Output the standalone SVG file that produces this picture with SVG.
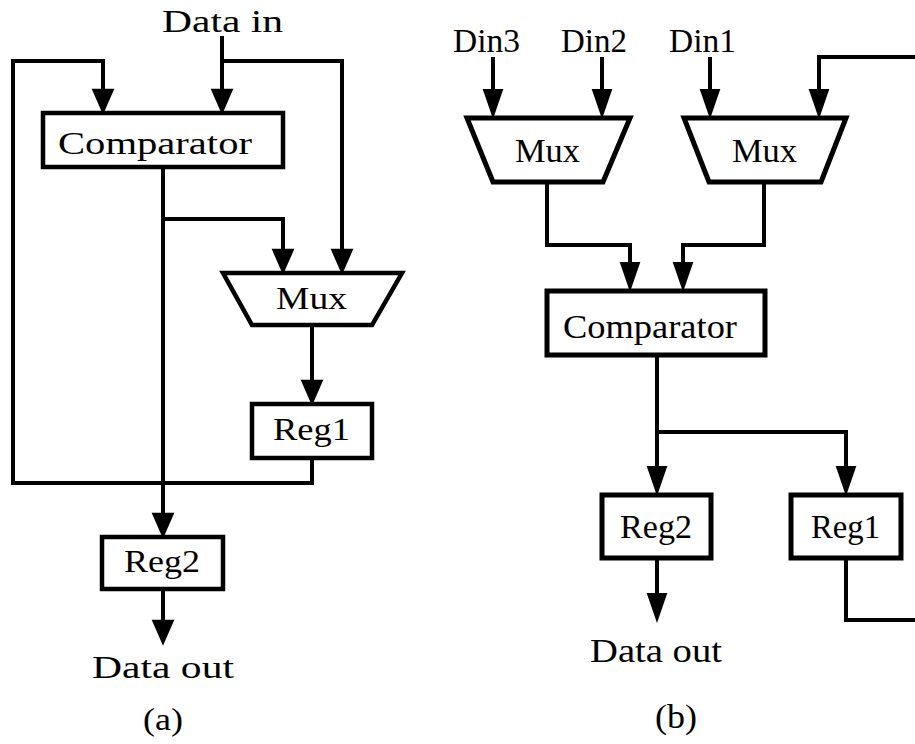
<svg xmlns="http://www.w3.org/2000/svg" width="915" height="744" viewBox="0 0 915 744">
  <style>
    text { font-family: "Liberation Serif", "Times New Roman", serif; fill: #000; }
    .ta { font-size: 31px; }
    .tb { font-size: 34px; }
    .box { fill: #fff; stroke: #000; stroke-width: 4.5; stroke-linejoin: miter; }
    .boxb { fill: #fff; stroke: #000; stroke-width: 5; stroke-linejoin: miter; }
    .wire { fill: none; stroke: #000; stroke-width: 4; stroke-linejoin: miter; }
    .wa { marker-end: url(#arrA); }
    .wb { marker-end: url(#arrB); }
  </style>
  <defs>
    <marker id="arrA" markerUnits="userSpaceOnUse" markerWidth="26" markerHeight="24" refX="2" refY="10.5" orient="auto" viewBox="0 0 24 21" overflow="visible">
      <path d="M0,0 L24,10.5 L0,21 Z" fill="#000"/>
    </marker>
    <marker id="arrB" markerUnits="userSpaceOnUse" markerWidth="30" markerHeight="22" refX="2" refY="10" orient="auto" viewBox="0 0 29 20" overflow="visible">
      <path d="M0,0 L29,10 L0,20 Z" fill="#000"/>
    </marker>
  </defs>
  <rect width="915" height="744" fill="#fff"/>

  <!-- (a) single-port design -->
  <g id="a-connectors">
    <path class="wire wa" d="M222,36 V91"/>
    <path class="wire wa" d="M222,61 H342 V251"/>
    <path class="wire wa" d="M312,458 V483 H13 V61 H103 V91"/>
    <path class="wire wa" d="M163,167 V515"/>
    <path class="wire wa" d="M163,219 H283 V251"/>
    <path class="wire wa" d="M312,325 V382"/>
    <path class="wire wa" d="M163,589 V622"/>
  </g>
  <g id="a-datain"><text class="ta" x="162" y="32" textLength="121" lengthAdjust="spacingAndGlyphs">Data in</text></g>
  <g id="a-comparator">
    <rect class="box" x="43" y="113" width="240" height="54"/>
    <text class="ta" x="58" y="154" textLength="194" lengthAdjust="spacingAndGlyphs">Comparator</text>
  </g>
  <g id="a-mux">
    <polygon class="box" points="223,273 402,273 372,325 252,325"/>
    <text class="ta" x="276" y="309" textLength="71" lengthAdjust="spacingAndGlyphs">Mux</text>
  </g>
  <g id="a-reg1">
    <rect class="box" x="252" y="404" width="120" height="54"/>
    <text class="ta" x="273" y="440" textLength="77" lengthAdjust="spacingAndGlyphs">Reg1</text>
  </g>
  <g id="a-reg2">
    <rect class="box" x="102" y="537" width="121" height="52"/>
    <text class="ta" x="124" y="572" textLength="76" lengthAdjust="spacingAndGlyphs">Reg2</text>
  </g>
  <g id="a-dataout"><text class="ta" x="92" y="678" textLength="142" lengthAdjust="spacingAndGlyphs">Data out</text></g>
  <g id="a-caption"><text class="ta" x="143" y="730" textLength="40" lengthAdjust="spacingAndGlyphs">(a)</text></g>

  <!-- (b) multi-input design -->
  <g id="b-connectors">
    <path class="wire wb" d="M493,57 V91"/>
    <path class="wire wb" d="M602,57 V91"/>
    <path class="wire wb" d="M710,57 V91"/>
    <path class="wire wb" d="M918,57 H819 V91"/>
    <path class="wire" d="M846,558 V620 H918"/>
    <path class="wire wb" d="M547,182 V245 H630 V264"/>
    <path class="wire wb" d="M764,182 V245 H683 V264"/>
    <path class="wire wb" d="M657,355 V468"/>
    <path class="wire wb" d="M657,432 H846 V468"/>
    <path class="wire wb" d="M657,558 V595"/>
  </g>
  <g id="b-din3"><text class="tb" x="453" y="52" textLength="67" lengthAdjust="spacingAndGlyphs">Din3</text></g>
  <g id="b-din2"><text class="tb" x="561" y="52" textLength="66" lengthAdjust="spacingAndGlyphs">Din2</text></g>
  <g id="b-din1"><text class="tb" x="669" y="52" textLength="67" lengthAdjust="spacingAndGlyphs">Din1</text></g>
  <g id="b-mux1">
    <polygon class="boxb" points="467,118 630,118 603,182 493,182"/>
    <text class="tb" x="515" y="162" textLength="65" lengthAdjust="spacingAndGlyphs">Mux</text>
  </g>
  <g id="b-mux2">
    <polygon class="boxb" points="684,118 846,118 821,182 709,182"/>
    <text class="tb" x="732" y="162" textLength="65" lengthAdjust="spacingAndGlyphs">Mux</text>
  </g>
  <g id="b-comparator">
    <rect class="boxb" x="547" y="291" width="218" height="64"/>
    <text class="tb" x="563" y="338" textLength="174" lengthAdjust="spacingAndGlyphs">Comparator</text>
  </g>
  <g id="b-reg2">
    <rect class="boxb" x="602" y="495" width="109" height="63"/>
    <text class="tb" x="620" y="538" textLength="72" lengthAdjust="spacingAndGlyphs">Reg2</text>
  </g>
  <g id="b-reg1">
    <rect class="boxb" x="791" y="495" width="110" height="63"/>
    <text class="tb" x="811" y="538" textLength="69" lengthAdjust="spacingAndGlyphs">Reg1</text>
  </g>
  <g id="b-dataout"><text class="tb" x="590" y="662" textLength="132" lengthAdjust="spacingAndGlyphs">Data out</text></g>
  <g id="b-caption"><text class="tb" x="655" y="728" textLength="42" lengthAdjust="spacingAndGlyphs">(b)</text></g>
</svg>
